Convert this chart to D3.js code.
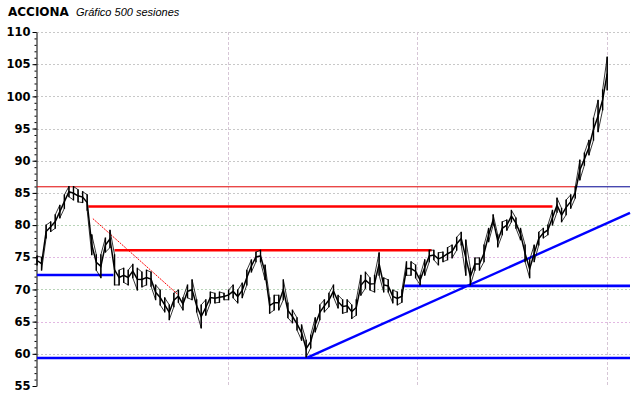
<!DOCTYPE html>
<html>
<head>
<meta charset="utf-8">
<title>ACCIONA</title>
<script src="https://d3js.org/d3.v7.min.js"></script>
<style>
  body { margin: 0; background: #fff; }
  svg { display: block; }
  .title { font-family: "DejaVu Sans", Verdana, sans-serif; font-weight: bold; font-size: 12px; fill: #000; }
  .subtitle { font-family: "Liberation Sans", Arial, sans-serif; font-style: italic; font-size: 11px; fill: #000; }
  .yaxis text { font-family: "DejaVu Sans", Verdana, sans-serif; font-weight: bold; font-size: 11.5px; fill: #000; }
</style>
</head>
<body>
<svg width="640" height="398"></svg>
<script>
// sessions sampled every 4 sessions (0..500)
var sessions = d3.range(0, 501, 4);
var highs = [
  75.2, 75.0, 80.0, 80.5, 81.6, 83.1, 84.7, 86.0, 86.0, 85.5,
  85.2, 84.7, 78.5, 75.4, 75.4, 78.0, 79.2, 75.4, 73.0, 73.3,
  73.0, 73.9, 73.3, 72.7, 73.0, 72.7, 70.7, 69.9, 68.7, 67.6,
  69.4, 69.9, 68.7, 70.7, 71.5, 68.4, 67.6, 68.4, 69.6, 69.4,
  69.6, 69.4, 69.9, 70.7, 69.9, 71.0, 73.0, 74.6, 75.8, 76.1,
  73.8, 68.7, 69.1, 69.1, 71.5, 67.9, 66.8, 65.6, 64.5, 62.1,
  62.9, 65.6, 67.6, 68.4, 69.4, 70.7, 69.1, 68.4, 68.4, 67.6,
  68.4, 72.2, 72.7, 71.8, 72.2, 75.7, 71.8, 71.5, 69.9, 69.6,
  69.9, 74.3, 74.3, 73.8, 72.2, 74.6, 76.1, 76.1, 75.7, 75.8,
  76.5, 76.9, 78.1, 78.9, 77.7, 73.3, 74.9, 74.9, 76.9, 79.5,
  81.6, 78.5, 80.5, 80.8, 82.3, 81.1, 79.5, 76.9, 74.6, 76.9,
  78.9, 79.5, 80.0, 82.3, 84.2, 82.6, 83.9, 84.7, 85.9, 90.1,
  91.2, 93.2, 96.6, 99.4, 101.0, 106.1
];
var lows = [
  73.8, 73.0, 78.0, 79.0, 79.5, 81.1, 82.6, 84.4, 83.9, 83.6,
  83.5, 82.3, 75.4, 73.0, 71.8, 75.8, 76.5, 70.7, 70.7, 71.1,
  70.7, 71.8, 69.9, 70.4, 70.7, 70.5, 68.4, 67.6, 66.5, 65.3,
  67.3, 68.0, 66.8, 68.7, 68.4, 66.5, 64.0, 66.0, 67.9, 67.9,
  68.0, 68.4, 68.4, 68.7, 67.9, 68.7, 70.7, 72.7, 74.3, 74.3,
  71.5, 66.3, 66.8, 66.8, 68.4, 65.6, 64.8, 63.7, 62.1, 59.5,
  60.9, 63.4, 65.3, 66.5, 67.3, 68.8, 67.1, 66.3, 66.5, 65.5,
  66.0, 69.1, 70.2, 69.9, 69.6, 72.2, 69.6, 69.6, 67.9, 67.6,
  68.0, 72.2, 72.2, 71.8, 70.7, 72.2, 74.3, 74.6, 73.8, 74.3,
  74.6, 74.9, 76.1, 76.9, 72.2, 70.7, 73.0, 73.0, 74.3, 77.4,
  80.0, 76.6, 78.5, 79.2, 80.5, 79.5, 77.7, 74.3, 71.8, 74.3,
  76.9, 78.0, 78.5, 80.0, 82.0, 80.5, 81.6, 82.6, 84.2, 87.0,
  89.3, 90.9, 93.2, 94.5, 97.9, 101.0
];

// horizontal levels: [startSession, endSession, value]
var redLevels = [[45, 452, 82.9], [68, 346, 76.1]];
var blueLevels = [[0, 67, 72.25], [0, 520, 59.35], [322, 520, 70.55]];
var thinRed = [0, 472, 85.95];
var thinNavy = [472, 520, 85.95];
// trend lines: [s0, v0, s1, v1]
var blueTrend = [237, 59.4, 520, 81.9];
var redDashed = [49, 81.0, 123, 69.3];

var yTicks = d3.range(55, 111, 5);
var yMinor = d3.range(55, 111, 1);
var vGrid = [167.5, 333.5, 500];
var gridColor = { 110: "#c8c8c8", 105: "#c8c8c8", 100: "#c8c8c8", 95: "#c8c8c8", 90: "#c8c8c8",
  85: "#c8c8c8", 80: "#b8d4b8", 75: "#e2b8e2", 70: "#b8d4b8", 65: "#e2b8e2", 60: "#c8c8c8", 55: "none" };

var svg = d3.select("svg");
var x = d3.scaleLinear().domain([0, 520]).range([37, 630]);
var y = d3.scaleLinear().domain([55, 110]).range([386, 32]);

// title
svg.append("text").attr("class", "title").attr("x", 8).attr("y", 16).text("ACCIONA");
svg.append("text").attr("class", "subtitle").attr("x", 76).attr("y", 16).text("Gráfico 500 sesiones");

// grid
svg.append("g").selectAll("line").data(yTicks.filter(function(d) { return d > 55; })).enter().append("line")
  .attr("x1", 37).attr("x2", 630)
  .attr("y1", function(d) { return Math.round(y(d)) + 0.5; })
  .attr("y2", function(d) { return Math.round(y(d)) + 0.5; })
  .attr("stroke", function(d) { return gridColor[d]; })
  .attr("stroke-dasharray", "2,2");

svg.append("g").selectAll("line").data(vGrid).enter().append("line")
  .attr("x1", function(d) { return Math.round(x(d)) + 0.5; })
  .attr("x2", function(d) { return Math.round(x(d)) + 0.5; })
  .attr("y1", 32).attr("y2", 386)
  .attr("stroke", "#d6c6d6")
  .attr("stroke-dasharray", "3,2");

// y axis
var yAxis = d3.axisLeft(y).tickValues(yTicks).tickSize(4).tickSizeOuter(0).tickPadding(2);
var ga = svg.append("g").attr("class", "yaxis").attr("transform", "translate(36.5,0)").call(yAxis);
ga.select(".domain").attr("stroke", "#000");
ga.selectAll(".tick line").attr("stroke", "#000");
var minorAxis = d3.axisLeft(y).tickValues(yMinor).tickSize(2).tickSizeOuter(0).tickFormat("");
svg.append("g").attr("transform", "translate(36.5,0)").call(minorAxis)
  .select(".domain").remove();

// support / resistance levels
function hline(lv, color, width) {
  svg.append("line")
    .attr("x1", x(lv[0])).attr("x2", x(lv[1]))
    .attr("y1", y(lv[2])).attr("y2", y(lv[2]))
    .attr("stroke", color).attr("stroke-width", width);
}
hline(thinRed, "#e00000", 1);
hline(thinNavy, "#000090", 1);
redLevels.forEach(function(lv) { hline(lv, "#ff0000", 2.6); });
blueLevels.forEach(function(lv) { hline(lv, "#0000ff", 2.6); });

svg.append("line")
  .attr("x1", x(blueTrend[0])).attr("y1", y(blueTrend[1]))
  .attr("x2", x(blueTrend[2])).attr("y2", y(blueTrend[3]))
  .attr("stroke", "#0000ff").attr("stroke-width", 2.4);

svg.append("line")
  .attr("x1", x(redDashed[0])).attr("y1", y(redDashed[1]))
  .attr("x2", x(redDashed[2])).attr("y2", y(redDashed[3]))
  .attr("stroke", "#ff0000").attr("stroke-width", 1).attr("stroke-dasharray", "2,1");

// price: high-low bars, a mid line and a thin high/low zigzag
var price = svg.append("g");
price.selectAll("line").data(sessions).enter().append("line")
  .attr("x1", function(d) { return x(d); })
  .attr("x2", function(d) { return x(d); })
  .attr("y1", function(d, i) { return y(lows[i]) + 0.5; })
  .attr("y2", function(d, i) { return y(highs[i]) - 0.5; })
  .attr("stroke", "#000")
  .attr("stroke-width", 1.4);

var mid = d3.line()
  .x(function(d, i) { return x(sessions[i]); })
  .y(function(d, i) { return y((highs[i] + lows[i]) / 2); });
price.append("path")
  .attr("d", mid(sessions))
  .attr("fill", "none")
  .attr("stroke", "#000")
  .attr("stroke-width", 1.5);

var zig = [];
sessions.forEach(function(s, i) {
  var a = [x(s), y(lows[i])], b = [x(s), y(highs[i])];
  if (i % 2 === 0) { zig.push(a, b); } else { zig.push(b, a); }
});
price.append("path")
  .attr("d", d3.line()(zig))
  .attr("fill", "none")
  .attr("stroke", "#000")
  .attr("stroke-width", 0.8);
</script>
</body>
</html>
